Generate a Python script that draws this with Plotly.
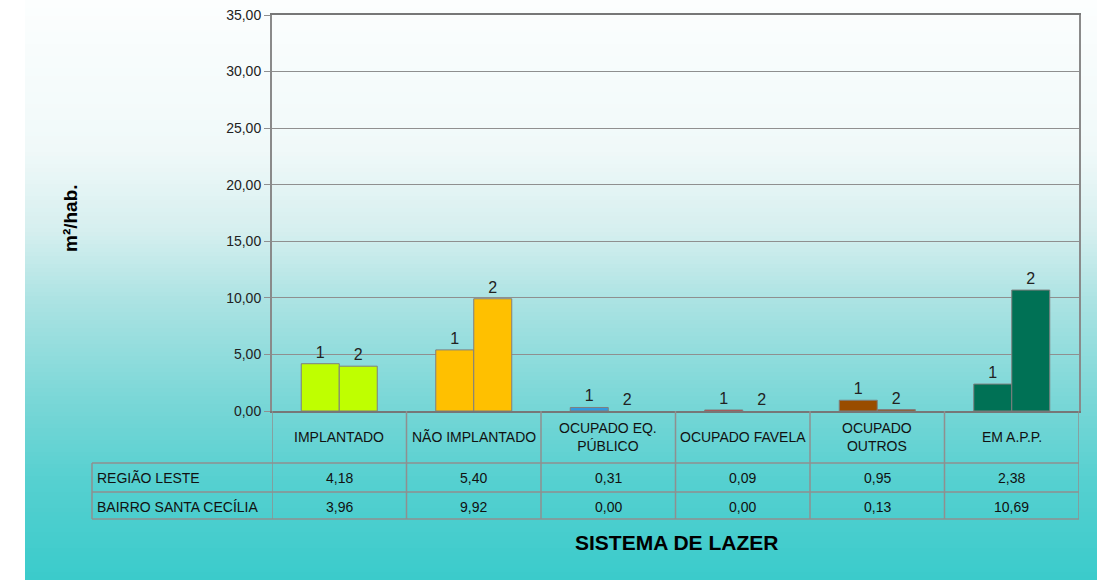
import plotly.graph_objects as go

# ---- data ----
categories = ["IMPLANTADO", "NÃO IMPLANTADO", "OCUPADO EQ. PÚBLICO",
              "OCUPADO FAVELA", "OCUPADO OUTROS", "EM A.P.P."]
header_labels = ["IMPLANTADO", "NÃO IMPLANTADO", "OCUPADO EQ.<br>PÚBLICO",
                 "OCUPADO FAVELA", "OCUPADO<br>OUTROS", "EM A.P.P."]
series_names = ["REGIÃO LESTE", "BAIRRO SANTA CECÍLIA"]
regiao_leste = [4.18, 5.40, 0.31, 0.09, 0.95, 2.38]
bairro_santa_cecilia = [3.96, 9.92, 0.00, 0.00, 0.13, 10.69]
bar_colors = ["#BFFF00", "#FFC000", "#3399DD", "#FF0000", "#994C00", "#007155"]
y_ticks = [0, 5, 10, 15, 20, 25, 30, 35]

W, H = 1103, 580
L, R, T, B = 272, 1079, 15, 411
PW, PH = R - L, B - T


def py2paper(py):
    return (B - py) / PH


def px2paper(px):
    return (px - L) / PW


def fmt(v):
    return f"{v:.2f}".replace(".", ",")


FONT = "Liberation Sans, Arial, sans-serif"
GRID = "#8f8f8f"

fig = go.Figure()
for name, vals, lbl in [(series_names[0], regiao_leste, "1"),
                        (series_names[1], bairro_santa_cecilia, "2")]:
    fig.add_trace(go.Bar(
        x=categories, y=vals, name=name,
        marker=dict(color=bar_colors,
                    line=dict(color="#7f7f7f", width=[0 if v == 0 else 1 for v in vals])),
        text=[lbl] * len(vals), textposition="outside",
        textfont=dict(family=FONT, size=16, color="#222222"),
        cliponaxis=False, hoverinfo="x+y+name",
    ))

shapes = []
# gradient background
stops = [(0, (252, 254, 254)), (150, (240, 249, 249)), (230, (214, 239, 239)),
         (300, (172, 227, 227)), (400, (122, 215, 215)), (480, (86, 208, 208)),
         (580, (58, 203, 203))]


def col_at(y):
    for (y0, c0), (y1, c1) in zip(stops[:-1], stops[1:]):
        if y0 <= y <= y1:
            t = (y - y0) / (y1 - y0)
            return tuple(int(round(a + (b - a) * t)) for a, b in zip(c0, c1))
    return stops[-1][1]


step = 4
for y in range(0, H, step):
    c = col_at(y + step / 2)
    shapes.append(dict(type="rect", xref="paper", yref="paper", layer="below",
                       x0=px2paper(25), x1=px2paper(1097),
                       y0=py2paper(y + step + 0.5), y1=py2paper(y),
                       line=dict(width=0), fillcolor=f"rgb{c}"))

# table lines
row_lines = [463, 492, 519]
for ry in row_lines:
    shapes.append(dict(type="line", xref="paper", yref="paper",
                       x0=px2paper(92), x1=1, y0=py2paper(ry), y1=py2paper(ry),
                       line=dict(color=GRID, width=1.5)))
shapes.append(dict(type="line", xref="paper", yref="paper",
                   x0=px2paper(92), x1=px2paper(92), y0=py2paper(463), y1=py2paper(519),
                   line=dict(color=GRID, width=1.5)))
for i in range(len(categories) + 1):
    shapes.append(dict(type="line", xref="x", yref="paper",
                       x0=i - 0.5, x1=i - 0.5, y0=0, y1=py2paper(519),
                       line=dict(color=GRID, width=1.5)))

annotations = []
TXT = dict(family=FONT, size=14, color="#111111")
for i, lab in enumerate(header_labels):
    annotations.append(dict(x=categories[i], xref="x", y=py2paper(437), yref="paper",
                            xanchor="center", yanchor="middle",
                            text=lab, showarrow=False, font=TXT))
for row_y, name, vals in [(478, series_names[0], regiao_leste),
                          (507, series_names[1], bairro_santa_cecilia)]:
    annotations.append(dict(x=px2paper(95), xref="paper", y=py2paper(row_y), yref="paper",
                            text=name, showarrow=False, xanchor="left", yanchor="middle",
                            font=TXT))
    for i, v in enumerate(vals):
        annotations.append(dict(x=categories[i], xref="x", y=py2paper(row_y), yref="paper",
                                xanchor="center", yanchor="middle",
                                text=fmt(v), showarrow=False, font=TXT))

annotations.append(dict(x=px2paper(70), xref="paper", y=py2paper(218), yref="paper",
                        xanchor="center", yanchor="middle",
                        text="<b>m²/hab.</b>", textangle=-90, showarrow=False,
                        font=dict(family=FONT, size=19, color="#000000")))
annotations.append(dict(x=px2paper(676), xref="paper", y=py2paper(542), yref="paper",
                        xanchor="center", yanchor="middle",
                        text="<b>SISTEMA DE LAZER</b>", showarrow=False,
                        font=dict(family=FONT, size=21, color="#000000")))

fig.update_layout(
    width=W, height=H,
    margin=dict(l=L, r=W - R, t=T, b=H - B, pad=0, autoexpand=False),
    paper_bgcolor="white", plot_bgcolor="rgba(0,0,0,0)",
    separators=",.",
    showlegend=False,
    barmode="group", bargap=0.435, bargroupgap=0,
    font=dict(family=FONT, size=14, color="#222222"),
    shapes=shapes, annotations=annotations,
)
fig.update_xaxes(showticklabels=False, showgrid=False, ticks="", automargin=False,
                 showline=True, linecolor="#777777", linewidth=2, mirror=True,
                 range=[-0.5, len(categories) - 0.5])
fig.update_yaxes(range=[0, 35], tickvals=y_ticks, tickformat=".2f", automargin=False,
                 showgrid=True, gridcolor=GRID, gridwidth=1,
                 showline=True, linecolor="#8a8a8a", linewidth=2, mirror=True,
                 ticks="outside", ticklen=6, tickcolor=GRID, zeroline=False,
                 tickfont=dict(family=FONT, size=14, color="#222222"))

fig.write_html("out.html", config={"displayModeBar": False},
               post_script="document.body.style.margin='0';document.body.style.overflow='hidden';")
